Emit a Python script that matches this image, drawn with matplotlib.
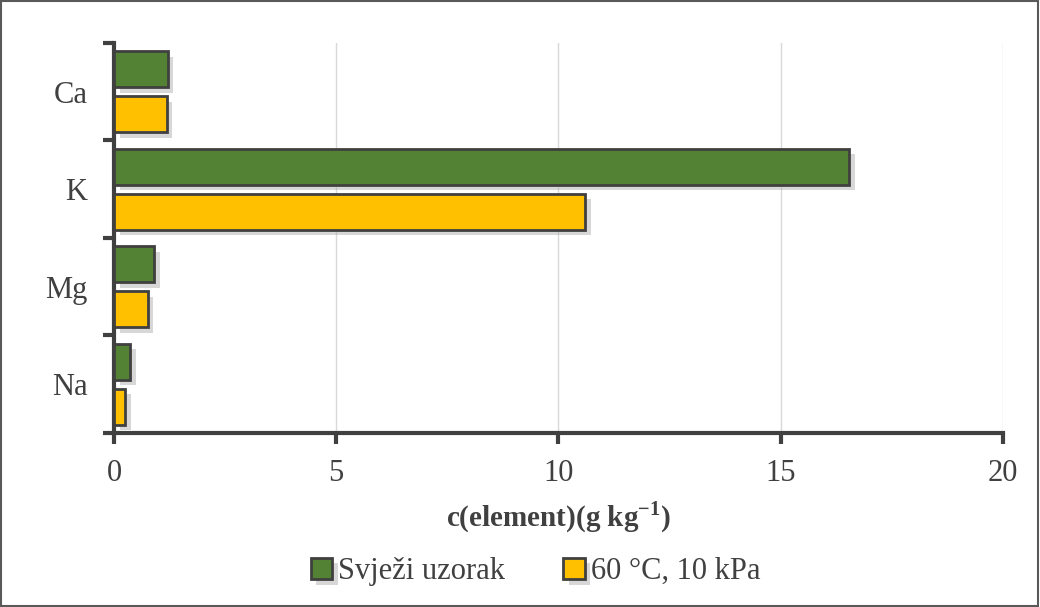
import matplotlib
matplotlib.use('Agg')
import matplotlib.pyplot as plt
import matplotlib.patheffects as pe
import numpy as np

elements = ['Na', 'Mg', 'K', 'Ca']
fresh = [0.36, 0.90, 16.54, 1.21]
dried = [0.25, 0.76, 10.60, 1.19]
labels = ['Svježi uzorak', '60 °C, 10 kPa']

plt.rcParams['font.family'] = ['Liberation Serif', 'DejaVu Serif']
plt.rcParams['mathtext.fontset'] = 'custom'
plt.rcParams['mathtext.rm'] = 'Liberation Serif'
plt.rcParams['mathtext.bf'] = 'Liberation Serif:bold'
edge = '#404040'

fig = plt.figure(figsize=(10.4, 6.07), dpi=100)
ax = fig.add_axes([0.1096, 0.2867, 0.8548, 0.6425])

y = np.arange(len(elements))
h = 0.37
shadow = [pe.SimplePatchShadow(offset=(4, -4), shadow_rgbFace='#b0b0b0', alpha=0.5), pe.Normal()]
b1 = ax.barh(y + 0.23, fresh, height=h, color='#548235', edgecolor=edge, linewidth=2,
             label=labels[0], zorder=3)
b2 = ax.barh(y - 0.23, dried, height=h, color='#FFC000', edgecolor=edge, linewidth=2,
             label=labels[1], zorder=3)
for b in list(b1) + list(b2):
    b.set_path_effects(shadow)

ax.set_xlim(0, 20)
ax.set_ylim(-0.5, 3.5)
ax.set_xticks([0, 5, 10, 15, 20])
ax.set_yticks(y)
ax.set_yticklabels(elements)
ax.set_yticks(np.arange(-0.5, 4, 1), minor=True)
ax.tick_params(axis='y', which='major', length=0, labelsize=22, pad=19, labelcolor='#404040')
ax.tick_params(axis='y', which='minor', length=8, width=3, color=edge, direction='out')
ax.tick_params(axis='x', which='major', length=8, width=3, color=edge, direction='out',
               labelsize=22, pad=11, labelcolor='#404040')
ax.grid(axis='x', color='#d9d9d9', linewidth=1, zorder=0)
for s in ['top', 'right']:
    ax.spines[s].set_visible(False)
for s in ['left', 'bottom']:
    ax.spines[s].set_color(edge)
    ax.spines[s].set_linewidth(3)

ax.set_xlabel(r'c(element)(g kg$^{\mathbf{-1}}$)', fontsize=21, fontweight='bold',
              color='#404040', labelpad=8)

fig.legend(handles=[b1, b2], labels=labels, loc='center', bbox_to_anchor=(0.515, 0.058),
           ncol=2, frameon=False, fontsize=22, handlelength=0.7, handleheight=0.7,
           handletextpad=0.2, columnspacing=1.9, labelcolor='#404040')

fig.patches.append(plt.Rectangle((0.001, 0.001), 0.997, 0.997, transform=fig.transFigure,
                                 fill=False, edgecolor='#595959', linewidth=1.5))

fig.savefig('out.png', dpi=100)
